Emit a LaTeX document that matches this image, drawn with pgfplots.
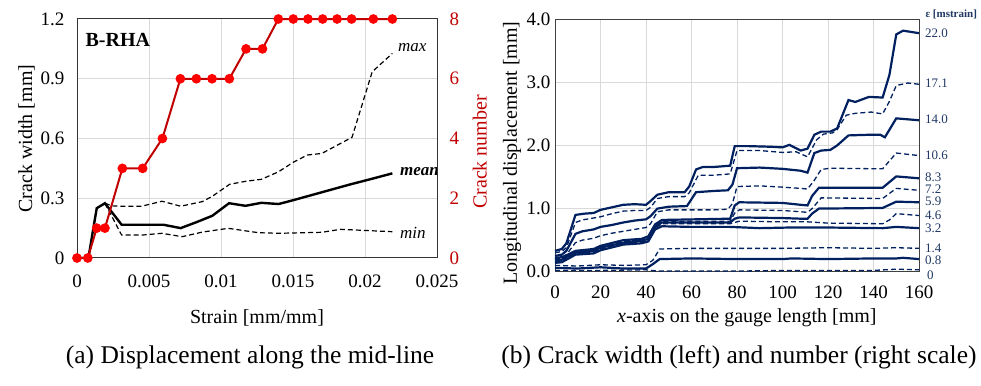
\documentclass[border=0pt]{standalone}
\usepackage{pgfplots}
\pgfplotsset{compat=1.18}
\usepackage{fontspec}
\setmainfont{Liberation Serif}
\definecolor{navy}{HTML}{002060}
\definecolor{navylab}{HTML}{203864}
\definecolor{dred}{HTML}{C00000}
\definecolor{gridgray}{HTML}{D9D9D9}
\newcommand{\fs}[1]{\fontsize{#1}{#1}\selectfont}
\pgfplotsset{
  every axis/.append style={/pgf/number format/assume math mode=true},
  sol/.style={navy, line width=2.2pt},
  das/.style={navy, line width=1.3pt, dash pattern=on 5pt off 3pt},
}
\tikzset{lab/.style={anchor=west, xshift=6pt, inner sep=0pt, text height=8.6pt, text depth=0pt, navylab, font=\fs{13}}}
\begin{document}
\begin{tikzpicture}[x=1pt,y=1pt]
\path[use as bounding box] (0,0) rectangle (981,385);

% ---------------- Left chart: crack width ----------------
\begin{axis}[
  at={(77pt,127pt)}, anchor=south west, scale only axis,
  width=360pt, height=239pt,
  xmin=0, xmax=0.025, ymin=0, ymax=1.2,
  scaled x ticks=false, scaled y ticks=false,
  xtick={0,0.005,0.01,0.015,0.02,0.025},
  xticklabels={0,0.005,0.01,0.015,0.02,0.025},
  ytick={0,0.3,0.6,0.9,1.2}, yticklabels={0,0.3,0.6,0.9,1.2},
  grid=major, major grid style={gridgray, line width=1pt},
  axis line style={black!80, line width=1pt},
  tick style={draw=none},
  ticklabel style={font=\fs{19}},
  xticklabel style={yshift=-13pt},
  yticklabel style={xshift=-9pt},
  xlabel={Strain [mm/mm]}, ylabel={Crack width [mm]},
  label style={font=\fs{20}},
  xlabel style={at={(axis description cs:0.5,-0.251)}, anchor=center},
  ylabel style={at={(axis description cs:-0.14,0.5)}, anchor=center},
  clip=false,
]
\addplot[black, line width=2.4pt] coordinates {
(0,0) (0.00079,0) (0.00137,0.25) (0.00194,0.275) (0.0031,0.167) (0.0045,0.167)
(0.006,0.167) (0.0072,0.15) (0.0083,0.18) (0.0094,0.212) (0.01056,0.275)
(0.0117,0.262) (0.0128,0.277) (0.014,0.271) (0.015,0.29) (0.016,0.31)
(0.017,0.33) (0.018,0.35) (0.019,0.37) (0.0205,0.398) (0.0219,0.425)};
\addplot[black, line width=1.2pt, dash pattern=on 5pt off 3pt] coordinates {
(0.00194,0.275) (0.0024,0.262) (0.0031,0.26) (0.0045,0.26) (0.0059,0.285)
(0.0072,0.26) (0.0087,0.283) (0.0094,0.31) (0.0106,0.37) (0.0117,0.385)
(0.0128,0.395) (0.014,0.433) (0.015,0.48) (0.016,0.517) (0.017,0.525)
(0.0191,0.606) (0.0205,0.935) (0.0219,1.027)};
\addplot[black, line width=1.2pt, dash pattern=on 5pt off 3pt] coordinates {
(0.00194,0.275) (0.0031,0.115) (0.0045,0.115) (0.0059,0.124) (0.0073,0.107)
(0.0087,0.13) (0.0105,0.149) (0.0126,0.127) (0.014,0.124) (0.017,0.129)
(0.0183,0.144) (0.0219,0.132)};
\node[anchor=west, font=\fs{17}\itshape] at (axis cs:0.02205,1.054) {max};
\node[anchor=west, font=\fs{17}\bfseries\itshape] at (axis cs:0.0222,0.432) {mean};
\node[anchor=west, font=\fs{17}\itshape] at (axis cs:0.0222,0.124) {min};
\node[anchor=west, font=\fs{20}\bfseries] at (rel axis cs:0.014,0.912) {B-RHA};
\end{axis}

\begin{axis}[
  at={(77pt,127pt)}, anchor=south west, scale only axis,
  width=360pt, height=239pt,
  xmin=0, xmax=0.025, ymin=0, ymax=8,
  axis x line=none, axis y line*=right,
  ytick={0,2,4,6,8},
  axis line style={black!80, line width=1pt},
  tick style={draw=none},
  ticklabel style={font=\fs{19}},
  yticklabel style={dred, xshift=9pt},
  ylabel={Crack number},
  label style={font=\fs{20}},
  ylabel style={dred, at={(axis description cs:1.119,0.444)}, anchor=center},
  clip=false,
]
\addplot[dred, line width=2pt, mark=*, mark size=3.8pt,
  mark options={fill=red, draw=red}] coordinates {
(0,0) (0.00075,0) (0.00137,1) (0.00194,1) (0.00315,3) (0.00456,3) (0.00593,4)
(0.00718,6) (0.00829,6) (0.00938,6) (0.01058,6) (0.01174,7) (0.01288,7)
(0.01398,8) (0.01502,8) (0.01604,8) (0.01706,8) (0.01806,8) (0.01907,8)
(0.02058,8) (0.0219,8)};
\end{axis}

% ---------------- Right chart: displacement ----------------
\begin{axis}[
  at={(555pt,113.3pt)}, anchor=south west, scale only axis,
  width=364pt, height=252.4pt,
  xmin=0, xmax=160, ymin=0, ymax=4,
  xtick={0,20,...,160},
  ytick={0,1,2,3,4}, yticklabels={0.0,1.0,2.0,3.0,4.0},
  grid=major, major grid style={gridgray, line width=1pt},
  axis line style={black!75, line width=1pt},
  tick style={draw=none},
  ticklabel style={font=\fs{19}},
  xticklabel style={yshift=-11pt},
  yticklabel style={xshift=-1pt},
  xlabel={{\itshape x}-axis on the gauge length [mm]},
  ylabel={Longitudinal displacement [mm]},
  label style={font=\fs{20}},
  xlabel style={at={(axis description cs:0.527,-0.183)}, anchor=center},
  ylabel style={at={(axis description cs:-0.118,0.47)}, anchor=center},
  clip=false,
]
% 22.0
\addplot[sol] coordinates {
(0,0.33)(3,0.36)(5,0.45)(9,0.90)(13,0.92)(17,0.93)(20,0.98)(25,1.02)(30,1.06)
(35,1.07)(40,1.06)(42,1.12)(45,1.22)(50,1.26)(57,1.26)(59,1.35)(62,1.62)(65,1.66)
(70,1.66)(77,1.68)(79,1.99)(85,1.99)(95,1.98)(100,1.97)(103,2.01)(108,1.92)
(111,1.95)(114,2.17)(117,2.22)(121,2.22)(124,2.27)(129,2.72)(132,2.69)(138,2.77)
(144,2.76)(147,3.12)(150,3.76)(153,3.82)(160,3.78)};
% 17.1
\addplot[das] coordinates {
(0,0.30)(3,0.32)(5,0.38)(9,0.78)(12,0.82)(20,0.87)(25,0.92)(30,0.96)(35,0.97)
(40,0.97)(42,1.02)(45,1.16)(50,1.19)(57,1.19)(59,1.25)(63,1.53)(70,1.53)(77,1.55)
(80,1.92)(90,1.92)(100,1.89)(106,1.90)(111,1.82)(115,2.09)(118,2.18)(122,2.20)
(124,2.25)(128,2.48)(132,2.51)(139,2.53)(144,2.50)(147,2.70)(150,2.95)(155,2.99)
(160,2.97)};
% 14.0
\addplot[sol] coordinates {
(0,0.25)(3,0.27)(5,0.33)(9,0.60)(12,0.64)(17,0.67)(20,0.71)(25,0.74)(30,0.78)
(35,0.81)(40,0.83)(42,0.88)(45,1.00)(50,1.03)(58,1.04)(60,1.15)(62,1.26)(70,1.28)
(76,1.29)(78,1.38)(80,1.64)(90,1.65)(100,1.63)(108,1.60)(111,1.57)(114,1.88)
(117,1.92)(121,1.93)(124,2.00)(129,2.16)(138,2.17)(143,2.17)(145,2.13)(150,2.43)
(160,2.40)};
% 10.6
\addplot[das] coordinates {
(0,0.20)(3,0.22)(5,0.27)(9,0.46)(12,0.50)(17,0.53)(20,0.57)(25,0.61)(30,0.64)
(35,0.67)(40,0.70)(42,0.76)(45,0.95)(50,0.98)(60,0.98)(70,0.98)(76,0.99)(78,1.08)
(80,1.35)(90,1.36)(100,1.34)(108,1.32)(111,1.31)(114,1.45)(117,1.62)(121,1.64)
(144,1.63)(150,1.88)(155,1.86)(160,1.84)};
% 8.3
\addplot[sol] coordinates {
(0,0.22)(3,0.23)(5,0.26)(9,0.33)(17,0.36)(20,0.41)(30,0.50)(38,0.52)(41,0.56)
(44,0.75)(47,0.82)(77,0.84)(79,1.05)(81,1.10)(100,1.09)(108,1.06)(111,1.05)
(113,1.20)(116,1.33)(144,1.33)(147,1.42)(150,1.51)(160,1.48)};
% 7.2
\addplot[das] coordinates {
(0,0.20)(3,0.21)(5,0.25)(9,0.31)(17,0.34)(20,0.39)(30,0.48)(38,0.50)(41,0.54)
(44,0.73)(47,0.80)(77,0.80)(79,0.93)(81,0.98)(100,0.97)(108,0.95)(111,0.94)
(113,1.00)(117,1.17)(144,1.16)(147,1.24)(150,1.32)(160,1.29)};
% 5.9
\addplot[sol] coordinates {
(0,0.18)(3,0.19)(5,0.23)(9,0.30)(17,0.33)(20,0.38)(30,0.46)(38,0.49)(41,0.52)
(44,0.71)(47,0.78)(77,0.78)(79,0.84)(81,0.86)(100,0.85)(108,0.84)(111,0.84)
(113,0.92)(116,1.00)(144,1.01)(147,1.06)(150,1.11)(160,1.10)};
% 4.6
\addplot[das] coordinates {
(0,0.16)(3,0.17)(5,0.21)(9,0.28)(17,0.31)(20,0.36)(30,0.45)(38,0.47)(41,0.50)
(44,0.69)(47,0.76)(77,0.76)(81,0.80)(100,0.79)(111,0.79)(120,0.77)(144,0.76)
(147,0.82)(150,0.92)(160,0.89)};
% 3.2
\addplot[sol] coordinates {
(0,0.14)(3,0.15)(5,0.19)(9,0.27)(17,0.29)(20,0.34)(30,0.43)(38,0.45)(41,0.48)
(44,0.67)(47,0.72)(60,0.71)(77,0.71)(90,0.69)(103,0.70)(120,0.70)(144,0.69)
(150,0.71)(160,0.69)};
% 1.4
\addplot[das] coordinates {
(0,0.10)(10,0.09)(20,0.11)(30,0.10)(40,0.11)(43,0.18)(46,0.36)(60,0.37)(80,0.37)
(100,0.37)(120,0.38)(140,0.37)(150,0.38)(160,0.37)};
% 0.8
\addplot[sol] coordinates {
(0,0.06)(10,0.05)(20,0.07)(30,0.05)(40,0.05)(43,0.12)(46,0.20)(60,0.21)(80,0.20)
(100,0.20)(104,0.21)(120,0.20)(140,0.21)(150,0.21)(153,0.22)(160,0.20)};
% 0
\addplot[das] coordinates {
(0,0.02)(20,0.02)(40,0.03)(45,0.01)(60,0.01)(80,0.01)(100,0.02)(120,0.02)
(140,0.02)(150,0.04)(160,0.03)};

\node[lab] at (axis cs:160,3.78) {22.0};
\node[lab] at (axis cs:160,2.98) {17.1};
\node[lab] at (axis cs:160,2.42) {14.0};
\node[lab] at (axis cs:160,1.85) {10.6};
\node[lab] at (axis cs:160,1.49) {8.3};
\node[lab] at (axis cs:160,1.31) {7.2};
\node[lab] at (axis cs:160,1.11) {5.9};
\node[lab] at (axis cs:160,0.90) {4.6};
\node[lab] at (axis cs:160,0.69) {3.2};
\node[lab] at (axis cs:160,0.38) {1.4};
\node[lab] at (axis cs:160,0.19) {0.8};
\node[lab, xshift=2pt] at (axis cs:160,-0.06) {0};
\node[anchor=west, xshift=6pt, inner sep=0.3pt, navylab, font=\fs{11}\bfseries] at (axis cs:160,4.08) {ε [mstrain]};
\end{axis}

\node[font=\fs{25.5}] at (250,28) {(a) Displacement along the mid-line};
\node[font=\fs{25.5}] at (739,28) {(b) Crack width (left) and number (right scale)};
\end{tikzpicture}
\end{document}
